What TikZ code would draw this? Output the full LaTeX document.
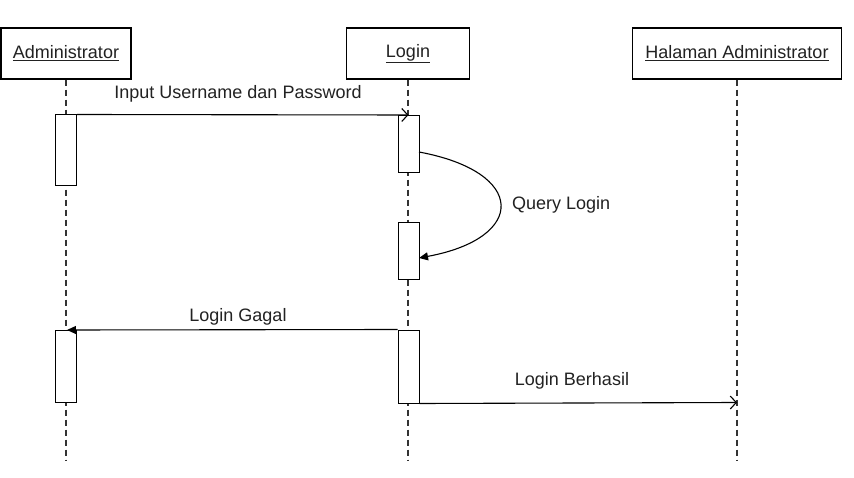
\documentclass[tikz,border=0pt]{standalone}
\usepackage{fontspec}
\setmainfont{Liberation Sans}
\usetikzlibrary{arrows.meta,calc}
\definecolor{txt}{HTML}{222222}
\definecolor{lifecol}{HTML}{333333}
\tikzset{
  header/.style={draw=black, line width=1.1pt, fill=white, minimum height=51pt, inner sep=0pt, text=txt, font=\fontsize{18}{21}\selectfont},
  actbox/.style={draw=black, line width=1pt, fill=white, minimum width=21pt, inner sep=0pt},
  lifeline/.style={draw=lifecol, line width=1.2pt, dash pattern=on 6pt off 4pt},
  msg/.style={draw=black, line width=1.1pt},
  lbl/.style={text=txt, inner sep=0pt, font=\fontsize{18}{21}\selectfont},
  opentip/.style={-{Straight Barb[length=6pt,width=13pt,line width=1.1pt]}},
  filltip/.style={-{Triangle[length=9pt,width=8pt]}}
}
\begin{document}
\begin{tikzpicture}[x=1pt,y=-1pt]
\useasboundingbox[fill=white] (0,0) rectangle (854,478);
% headers
\node[header, minimum width=130pt] (adm) at (66,53.5) {\underline{Administrator}};
\node[header, minimum width=123pt] (log) at (408,53.5) {\underline{Login}};
\node[header, minimum width=209pt] (hal) at (737,53.5) {\underline{Halaman Administrator}};
% lifeline ends
\coordinate (admend) at (66,460);
\coordinate (logend) at (408,460);
\coordinate (halend) at (737,460);
\draw[lifeline] (adm.south) -- (admend);
\draw[lifeline] (log.south) -- (logend);
\draw[lifeline] (hal.south) -- (halend);
% activation boxes
\node[actbox, minimum height=71pt] (a1) at (66,150.5) {};
\node[actbox, minimum height=57pt] (l1) at (408.5,144.5) {};
\node[actbox, minimum height=57pt] (l2) at (408.5,251.5) {};
\node[actbox, minimum height=72pt] (a2) at (66,366) {};
\node[actbox, minimum height=73pt] (l3) at (408.5,366.5) {};
% message 1
\coordinate (m1end) at (408.5,115);
\draw[msg, opentip] (a1.north east) -- (m1end);
\node[lbl] (t1) at (238,94) {Input Username dan Password};
% message 2 (self call)
\coordinate (q1) at (419,152);
\coordinate (q2) at (419,258);
\draw[msg, filltip] (q1) .. controls (527,172) and (527,238) .. (q2);
\node[lbl, anchor=west] (t2) at (512,205) {Query Login};
% message 3
\coordinate (m3end) at (67,330);
\draw[msg, filltip] (l3.north west) -- (m3end);
\node[lbl] (t3) at (238,317) {Login Gagal};
% message 4
\coordinate (m4end) at (737,402.5);
\draw[msg, opentip] (l3.south east) -- (m4end);
\node[lbl] (t4) at (572,381) {Login Berhasil};
\end{tikzpicture}
\end{document}
